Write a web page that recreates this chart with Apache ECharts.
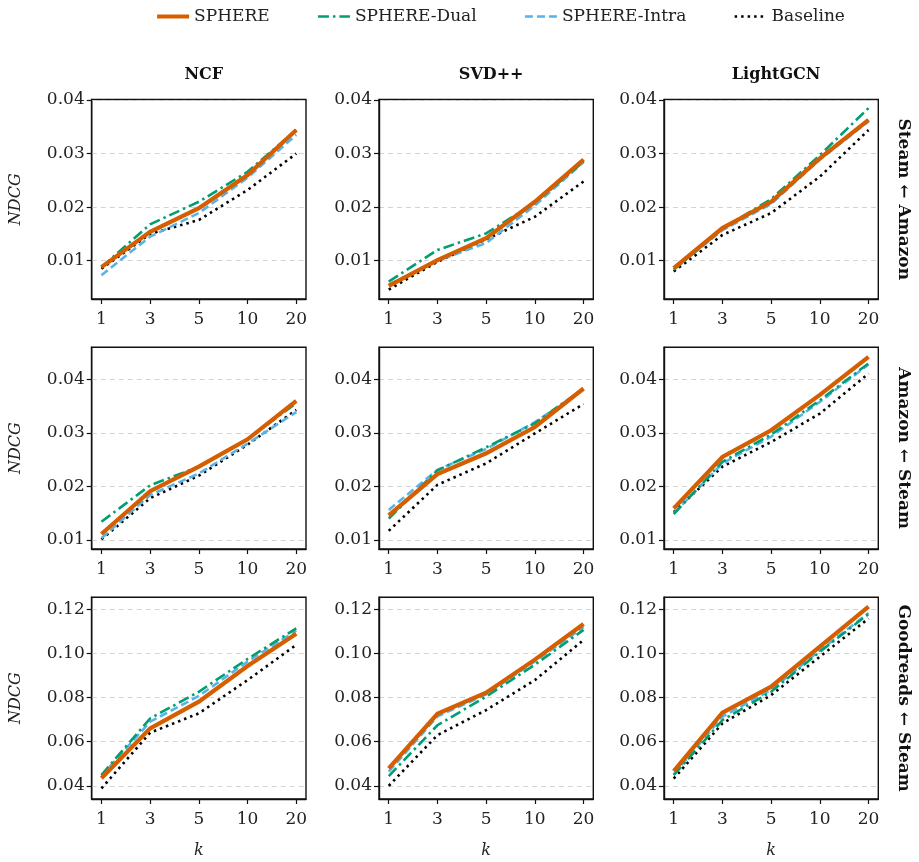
<!DOCTYPE html>
<html>
<head>
<meta charset="utf-8">
<script src="https://cdn.jsdelivr.net/npm/echarts@6/dist/echarts.min.js"></script>
<style>
html, body { margin: 0; padding: 0; background: #fff; }
#chart { width: 919px; height: 862px; }
</style>
</head>
<body>
<div id="chart"></div>
<script>
// k values on the x axis
var kLabels = ['1', '3', '5', '10', '20'];
var models = ['NCF', 'SVD++', 'LightGCN'];
var rowLabels = ['Steam \u2190 Amazon', 'Amazon \u2190 Steam', 'Goodreads \u2190 Steam'];
var methods = ['Baseline', 'SPHERE-Intra', 'SPHERE-Dual', 'SPHERE'];

// NDCG per row, one sub-array per model (NCF, SVD++, LightGCN)
var sphereRow1 = [[0.0088, 0.0154, 0.0198, 0.0260, 0.0344], [0.0053, 0.0101, 0.0142, 0.0210, 0.0289], [0.0086, 0.0161, 0.0210, 0.0291, 0.0363]];
var dualRow1 = [[0.0088, 0.0168, 0.0210, 0.0266, 0.0344], [0.0061, 0.0120, 0.0151, 0.0208, 0.0285], [0.0083, 0.0160, 0.0215, 0.0297, 0.0385]];
var intraRow1 = [[0.0073, 0.0145, 0.0189, 0.0255, 0.0335], [0.0055, 0.0100, 0.0133, 0.0203, 0.0284], [0.0084, 0.0157, 0.0206, 0.0289, 0.0360]];
var baseRow1 = [[0.0085, 0.0150, 0.0176, 0.0232, 0.0300], [0.0046, 0.0098, 0.0140, 0.0182, 0.0248], [0.0080, 0.0148, 0.0189, 0.0257, 0.0344]];

var sphereRow2 = [[0.0111, 0.0191, 0.0237, 0.0288, 0.0360], [0.0146, 0.0223, 0.0262, 0.0311, 0.0383], [0.0159, 0.0255, 0.0305, 0.0371, 0.0442]];
var dualRow2 = [[0.0134, 0.0202, 0.0237, 0.0288, 0.0356], [0.0140, 0.0230, 0.0273, 0.0318, 0.0383], [0.0148, 0.0246, 0.0297, 0.0361, 0.0430]];
var intraRow2 = [[0.0103, 0.0184, 0.0224, 0.0280, 0.0339], [0.0156, 0.0231, 0.0270, 0.0320, 0.0381], [0.0150, 0.0243, 0.0293, 0.0358, 0.0428]];
var baseRow2 = [[0.0101, 0.0178, 0.0220, 0.0278, 0.0343], [0.0117, 0.0203, 0.0243, 0.0299, 0.0354], [0.0152, 0.0237, 0.0283, 0.0336, 0.0411]];

var sphereRow3 = [[0.0434, 0.0661, 0.0782, 0.0944, 0.1090], [0.0479, 0.0727, 0.0823, 0.0973, 0.1135], [0.0467, 0.0732, 0.0850, 0.1032, 0.1214]];
var dualRow3 = [[0.0449, 0.0706, 0.0827, 0.0976, 0.1115], [0.0444, 0.0675, 0.0805, 0.0950, 0.1108], [0.0448, 0.0698, 0.0827, 0.1009, 0.1180]];
var intraRow3 = [[0.0445, 0.0691, 0.0808, 0.0964, 0.1105], [0.0464, 0.0715, 0.0815, 0.0965, 0.1120], [0.0452, 0.0714, 0.0835, 0.1015, 0.1185]];
var baseRow3 = [[0.0388, 0.0641, 0.0729, 0.0880, 0.1040], [0.0400, 0.0630, 0.0744, 0.0880, 0.1062], [0.0433, 0.0683, 0.0812, 0.0986, 0.1160]];

var yTicks = [[0.01, 0.02, 0.03, 0.04], [0.01, 0.02, 0.03, 0.04], [0.04, 0.06, 0.08, 0.10, 0.12]];
var yRanges = [[0.00285, 0.0401], [0.0083, 0.046], [0.034, 0.1256]];

var rowData = [
    { SPHERE: sphereRow1, 'SPHERE-Dual': dualRow1, 'SPHERE-Intra': intraRow1, Baseline: baseRow1 },
    { SPHERE: sphereRow2, 'SPHERE-Dual': dualRow2, 'SPHERE-Intra': intraRow2, Baseline: baseRow2 },
    { SPHERE: sphereRow3, 'SPHERE-Dual': dualRow3, 'SPHERE-Intra': intraRow3, Baseline: baseRow3 }
];

var styles = {
    'SPHERE': { color: '#D55E00', width: 4.2, type: 'solid' },
    'SPHERE-Dual': { color: '#009E73', width: 2.6, type: [11, 4, 2.5, 4] },
    'SPHERE-Intra': { color: '#56B4E9', width: 2.6, type: [8, 4] },
    'Baseline': { color: '#000000', width: 2.6, type: [2.5, 4] }
};

var font = 'DejaVu Serif';
var colLeft = [91.7, 379, 664];
var rowTop = [99.5, 347.3, 597.3];
var rowHeight = [199.5, 201.7, 201.7];
var gridWidth = 214.3;

var grids = [], xAxes = [], yAxes = [], series = [], titles = [], graphics = [];
var idx = 0;
for (var r = 0; r < 3; r++) {
    for (var c = 0; c < 3; c++) {
        grids.push({ left: colLeft[c], top: rowTop[r], width: gridWidth, height: rowHeight[r],
            show: true, borderColor: '#111', borderWidth: 1.4, backgroundColor: 'transparent' });
        xAxes.push({
            type: 'value', gridIndex: idx, min: -0.2, max: 4.2,
            name: r == 2 ? 'k' : '', nameLocation: 'middle', nameGap: 44,
            nameTextStyle: { fontFamily: font, fontStyle: 'italic', fontSize: 16, color: '#222' },
            axisLine: { show: true, onZero: false, lineStyle: { color: '#111', width: 1.4 } },
            axisTick: { show: true, length: 5, customValues: [0, 1, 2, 3, 4], lineStyle: { color: '#111', width: 1.2 } },
            axisLabel: { customValues: [0, 1, 2, 3, 4], fontFamily: font, fontSize: 17, color: '#222', margin: 12,
                formatter: function (v) { return kLabels[Math.round(v)]; } },
            splitLine: { show: false }
        });
        yAxes.push({
            type: 'value', gridIndex: idx, min: yRanges[r][0], max: yRanges[r][1],
            name: c == 0 ? 'NDCG' : '', nameLocation: 'middle', nameGap: 68,
            nameTextStyle: { fontFamily: font, fontStyle: 'italic', fontSize: 16, color: '#222' },
            axisLine: { show: true, onZero: false, lineStyle: { color: '#111', width: 1.4 } },
            axisTick: { show: true, length: 5, customValues: yTicks[r], lineStyle: { color: '#111', width: 1.2 } },
            axisLabel: { customValues: yTicks[r], fontFamily: font, fontSize: 17, color: '#222', margin: 7,
                formatter: function (v) { return v.toFixed(2); } },
            splitLine: { show: true, lineStyle: { color: '#d3d3d3', width: 1.2, type: [5, 4] } }
        });
        methods.forEach(function (m) {
            var vals = rowData[r][m][c];
            var st = styles[m];
            series.push({
                name: m, type: 'line', xAxisIndex: idx, yAxisIndex: idx,
                data: vals.map(function (v, i) { return [i, v]; }),
                symbol: 'none', showSymbol: false, silent: true, animation: false,
                lineStyle: { color: st.color, width: st.width, type: st.type, cap: 'butt', join: 'miter' },
                itemStyle: { color: st.color },
                z: methods.indexOf(m) + 2
            });
        });
        idx++;
    }
    graphics.push({
        type: 'text', x: 903, y: rowTop[r] + rowHeight[r] / 2, rotation: -Math.PI / 2,
        style: { text: rowLabels[r], fontFamily: font, fontWeight: 'bold', fontSize: 17, fill: '#111',
            textAlign: 'center', textVerticalAlign: 'middle' }
    });
}
for (var c2 = 0; c2 < 3; c2++) {
    titles.push({ text: models[c2], left: colLeft[c2] + gridWidth / 2, top: 62, textAlign: 'center',
        textStyle: { fontFamily: font, fontWeight: 'bold', fontSize: 16, color: '#111' } });
}

var legendNames = ['SPHERE', 'SPHERE-Dual', 'SPHERE-Intra', 'Baseline'];
var chart = echarts.init(document.getElementById('chart'), null, { renderer: 'canvas' });
chart.setOption({
    animation: false,
    backgroundColor: '#fff',
    title: titles,
    legend: {
        data: legendNames.map(function (n) {
            return { name: n, itemStyle: { opacity: 0 }, lineStyle: { width: styles[n].width, type: styles[n].type } };
        }),
        top: 3, left: 150, itemWidth: 32, itemHeight: 10, itemGap: 47,
        textStyle: { fontFamily: font, fontSize: 17, color: '#222' }
    },
    grid: grids,
    xAxis: xAxes,
    yAxis: yAxes,
    series: series,
    graphic: graphics
});
</script>
</body>
</html>
